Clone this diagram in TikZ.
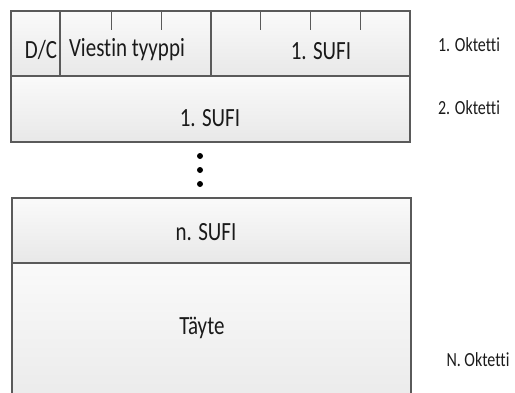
\documentclass[tikz,border=0pt]{standalone}
\usepackage{fontspec}
\usepackage{graphicx}
\setmainfont[Ligatures={NoCommon}]{Carlito}
\definecolor{edge}{HTML}{5A5A5A}
\definecolor{txt}{HTML}{1A1A1A}
\newcommand{\tallA}[1]{\scalebox{1}[1.25]{\fontsize{21}{24}\selectfont #1}}
\newcommand{\tallB}[1]{\scalebox{1}[1.25]{\fontsize{16}{19}\selectfont #1}}
\begin{document}
\begin{tikzpicture}[x=1pt,y=-1pt,
  cell/.style={draw=edge,line width=1.1pt,top color=white!98!black,bottom color=white!91!black,
    anchor=north west,inner sep=0pt,outer sep=0pt},
  lab/.style={text=txt,inner sep=0pt},
  tick/.style={draw=edge,line width=1pt},
  dot/.style={circle,fill=black,inner sep=0pt,minimum size=6pt}]
\useasboundingbox (0,0) rectangle (515,392);
\clip (0,0) rectangle (515,392);
% top row
\node[cell,minimum width=49pt,minimum height=65pt] (dc) at (11,11) {};
\node[cell,minimum width=151pt,minimum height=65pt] (vt) at (60,11) {};
\node[cell,minimum width=199pt,minimum height=65pt] (s1a) at (211,11) {};
\node[cell,minimum width=399pt,minimum height=66pt] (s1b) at (11,76) {};
% ticks
\foreach \x in {111,161,260,310,360}{\draw[tick] (\x,11) -- (\x,30);}
% labels
\node[lab] (tdc) at (41,50) {\tallA{D/C}};
\node[lab] (tvt) at (127,50) {\tallA{Viestin tyyppi}};
\node[lab] (ts1a) at (321,51) {\tallA{1. SUFI}};
\node[lab] (ts1b) at (210,118) {\tallA{1. SUFI}};
% dots
\node[dot] (d1) at (200,156) {};
\node[dot] (d2) at (200,170) {};
\node[dot] (d3) at (200,184) {};
% bottom
\node[cell,minimum width=399pt,minimum height=65pt] (sn) at (12,198) {};
\node[cell,minimum width=399pt,minimum height=160pt] (ty) at (12,263) {};
\node[lab] (tsn) at (206,232) {\tallA{n. SUFI}};
\node[lab] (tty) at (202,328) {\tallA{Täyte}};
% right labels
\node[lab] (o1) at (469,45) {\tallB{1. Oktetti}};
\node[lab] (o2) at (469,108) {\tallB{2. Oktetti}};
\node[lab] (on) at (478,360) {\tallB{N. Oktetti}};
\end{tikzpicture}
\end{document}
